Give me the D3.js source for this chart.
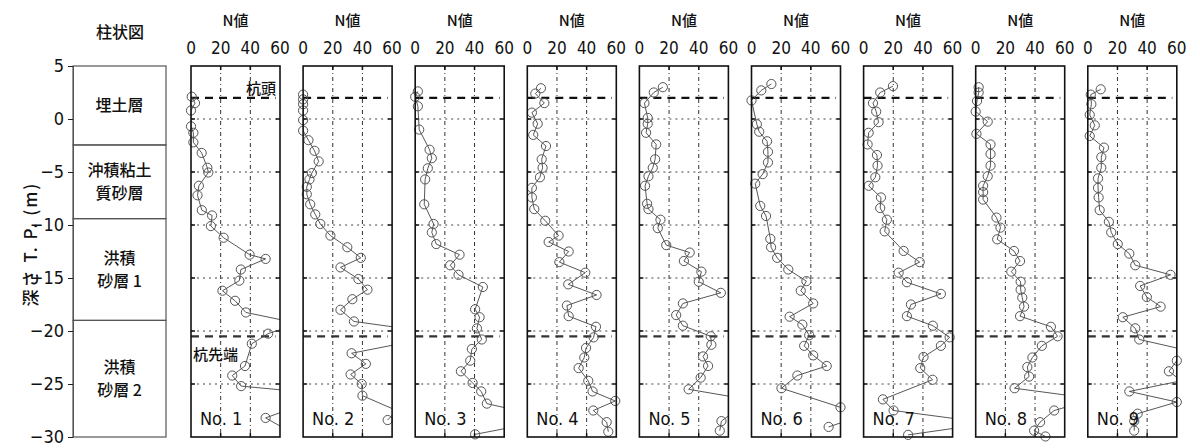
<!DOCTYPE html>
<html>
<head>
<meta charset="utf-8">
<script src="https://cdn.jsdelivr.net/npm/d3@7"></script>
<style>
  body { margin: 0; background: #fff; }
  text { fill: #111; }
</style>
</head>
<body>
<div id="chart"></div>
<script>
// soil column
const strataNames = [["埋土層"], ["沖積粘土", "質砂層"], ["洪積", "砂層 1"], ["洪積", "砂層 2"]];
const strataBounds = [5, -2.45, -9.4, -19, -30];
const depthTicks = [5, 0, -5, -10, -15, -20, -25, -30];
const gridDepths = [0, -5, -10, -15, -20, -25];
const nTicks = [0, 20, 40, 60];
const nGrid = [20, 40];
const pileHead = 2.0;
const pileTip = -20.5;
const boreNames = ["No. 1", "No. 2", "No. 3", "No. 4", "No. 5", "No. 6", "No. 7", "No. 8", "No. 9"];

// [depth T.P. m, N value] for each boring (values > 60 run off the panel)
const bore1 = [[2.1,0.5],[1.5,2.7],[0.8,0],[-0.7,0],[-1.3,1.6],[-2.2,1.6],[-3.2,7.2],[-4.6,11],[-5.05,11.7],[-6.3,5.3],[-7.2,4.4],[-8.6,7.3],[-9.1,14.2],[-10.1,13.4],[-11.2,22],[-12.8,39.5],[-13.2,50.3],[-14.2,33.6],[-15.25,32.6],[-16.2,21.2],[-17.15,29.7],[-18.25,37],[-19.3,73],[-20.25,52],[-21.2,41],[-23.3,36.4],[-24.2,27.8],[-25.2,33.8],[-26.2,110],[-27.2,70],[-28.2,50.3],[-29.2,63]];
const bore2 = [[2.3,0],[1.85,0],[1.4,0],[0.8,0],[-0.1,0],[-1.1,0],[-2.0,3.6],[-3.0,7.7],[-4.0,10.5],[-5.1,5.9],[-5.7,4.3],[-6.4,2.5],[-7.1,2.5],[-8.05,4.8],[-9.0,8.2],[-9.9,11.6],[-11.0,18.4],[-12.1,29.8],[-13.1,38.9],[-14.0,25.2],[-15.1,37.3],[-16.1,43.4],[-17.0,33.2],[-18.0,25.2],[-19.1,34.3],[-20.1,86],[-21.1,69],[-22.1,32.7],[-23.1,42.3],[-24.1,32],[-25.0,39.5],[-26.1,40],[-27.5,63],[-28.4,57]];
const bore3 = [[2.6,1.8],[2.1,0],[1.2,1.8],[-1.0,2.7],[-2.9,9.7],[-3.7,11.2],[-4.65,8.5],[-5.7,6.7],[-8.05,6.1],[-9.9,12.4],[-10.7,11.2],[-11.8,14.2],[-12.8,29.9],[-13.8,23.6],[-14.7,29.2],[-15.85,45.6],[-17.95,40.4],[-18.7,43.4],[-19.75,41.6],[-20.8,44.9],[-21.7,38.2],[-22.8,37.1],[-23.8,30.8],[-24.9,38.7],[-25.7,44.5],[-26.85,48.3],[-28.3,94],[-29.75,40.4]];
const bore4 = [[2.9,9.2],[2.4,5.4],[1.5,11.5],[0.6,3.1],[-0.45,7.0],[-1.5,4.0],[-2.55,12.6],[-3.8,9.7],[-4.6,10.3],[-5.5,8.5],[-6.5,3.1],[-7.4,3.1],[-8.5,4.7],[-9.6,12.1],[-11.0,21.1],[-11.6,14.4],[-12.5,27.9],[-13.5,21.6],[-14.5,39.1],[-15.6,27.6],[-16.6,46.7],[-17.6,26.7],[-18.6,27.9],[-19.6,46.3],[-20.6,44.7],[-21.6,39.6],[-22.5,38.4],[-23.5,34.6],[-24.7,41.1],[-25.7,44],[-26.6,59.3],[-27.5,44.5],[-28.6,53.5],[-29.5,54.6]];
const bore5 = [[3.0,15.8],[2.5,9.7],[1.5,3.4],[0.1,5.6],[-0.45,5.6],[-1.3,4.5],[-2.4,11.3],[-3.8,10.6],[-4.6,9.0],[-5.4,6.1],[-6.3,3.8],[-8.0,5.2],[-8.5,6.1],[-9.5,14.2],[-10.3,12.4],[-11.9,18.1],[-12.6,33.9],[-13.4,30.0],[-14.4,41.8],[-15.35,40],[-16.4,54.9],[-17.4,29.3],[-18.5,24.8],[-19.5,29.3],[-20.5,48.1],[-21.3,48.5],[-22.4,42.9],[-23.3,46.3],[-24.4,41.3],[-25.5,33.2],[-26.5,75],[-27.5,65],[-28.5,55.3],[-29.4,54.2]];
const bore6 = [[3.3,13.4],[2.7,6.6],[1.75,0],[-0.5,3.6],[-1.2,5.2],[-2.1,10.5],[-3.1,11.1],[-4.1,11.1],[-5.2,7.5],[-6.1,2.5],[-8.2,5.9],[-9.15,9.8],[-11.3,12.7],[-12.1,13.2],[-13.1,17.3],[-14.2,24.8],[-15.3,37],[-16.2,33.2],[-17.4,41.6],[-18.65,25.7],[-19.4,34.3],[-20.4,38.9],[-21.4,35.5],[-22.3,41.6],[-23.3,50.7],[-24.2,30.9],[-25.4,20.2],[-27.2,60],[-28.2,70],[-29.05,52]];
const bore7 = [[3.1,19.8],[2.5,11.2],[1.5,6.3],[0.7,8.5],[-0.3,10.1],[-1.3,3.4],[-2.4,2.7],[-3.4,9],[-4.4,9.4],[-5.5,7.9],[-6.3,3.4],[-7.4,11.7],[-8.4,11.2],[-9.5,15.7],[-10.6,14.2],[-12.45,27],[-13.5,37.8],[-14.5,23.6],[-15.4,29.2],[-16.5,52.1],[-17.5,31.9],[-18.6,29.2],[-19.5,46.7],[-20.6,58],[-21.4,52.1],[-22.45,40.4],[-23.5,38.2],[-24.6,46.5],[-26.45,13],[-27.5,20.2],[-28.7,85],[-29.8,30]];
const bore8 = [[3.0,2],[2.5,2],[1.7,0.9],[0.7,0],[-0.25,8.1],[-1.4,0.5],[-2.4,10],[-3.3,10],[-4.4,10],[-5.4,8.1],[-6.3,5],[-6.9,5],[-7.6,5],[-9.3,14],[-10.25,16.7],[-11.35,14.5],[-12.45,25.8],[-13.4,29.9],[-14.4,24],[-15.35,30.3],[-16.1,30.3],[-16.85,31.4],[-17.7,32.6],[-18.6,29.9],[-19.6,50.7],[-20.5,55.2],[-21.4,44.6],[-22.5,38.2],[-23.4,34.8],[-24.3,36],[-25.4,26.2],[-26.4,80],[-27.5,52.9],[-28.6,43.4],[-29.4,39.4],[-29.95,47]];
const bore9 = [[2.8,8.7],[2.3,2],[1.4,2.4],[0.4,1.3],[-0.6,4.7],[-1.6,1.3],[-2.7,10.9],[-3.6,9.1],[-4.6,9.1],[-5.6,6.9],[-6.5,6.9],[-7.4,7.3],[-8.6,8],[-9.7,14.2],[-10.7,15.8],[-11.8,20.2],[-12.7,28],[-13.8,32],[-14.7,55.8],[-15.75,35.3],[-16.8,39.8],[-17.7,49.1],[-18.7,23.6],[-19.75,32],[-20.8,34.7],[-21.8,66],[-22.8,60],[-23.8,54.7],[-24.7,63],[-25.7,28],[-26.7,60],[-27.8,33.6],[-28.5,31.3],[-29.4,31.3]];
const bores = [bore1, bore2, bore3, bore4, bore5, bore6, bore7, bore8, bore9];

const W = 1200, H = 448;
const fontNum = "'Liberation Sans Narrow','DejaVu Sans Condensed','Noto Sans CJK JP',sans-serif";
const fontJp = "'Noto Sans CJK JP','Liberation Sans Narrow',sans-serif";

const svg = d3.select("#chart").append("svg")
    .attr("width", W).attr("height", H)
    .style("display", "block");

const y = d3.scaleLinear().domain([5, -30]).range([66, 437]);

// ---- soil column ----
const colX0 = 73, colX1 = 166;
const col = svg.append("g");
col.selectAll(".stratum")
  .data(strataNames)
  .join("rect")
    .attr("x", colX0)
    .attr("y", (d, i) => y(strataBounds[i]))
    .attr("width", colX1 - colX0)
    .attr("height", (d, i) => y(strataBounds[i + 1]) - y(strataBounds[i]))
    .attr("fill", "none")
    .attr("stroke", "#555")
    .attr("stroke-width", 1.2);

strataNames.forEach((lines, i) => {
  const mid = (y(strataBounds[i]) + y(strataBounds[i + 1])) / 2;
  lines.forEach((t, j) => {
    col.append("text")
      .attr("x", (colX0 + colX1) / 2)
      .attr("y", mid + (j - (lines.length - 1) / 2) * 23)
      .attr("dy", "0.36em")
      .attr("text-anchor", "middle")
      .style("font-family", fontJp)
      .style("font-weight", 500)
      .style("font-size", "16px")
      .text(t);
  });
});

col.append("text")
  .attr("x", 120).attr("y", 38)
  .attr("text-anchor", "middle")
  .style("font-family", fontJp)
  .style("font-weight", 500)
  .style("font-size", "16px")
  .text("柱状図");

const yAxis = svg.append("g")
  .attr("transform", `translate(${colX0},0)`)
  .call(d3.axisLeft(y).tickValues(depthTicks).tickSize(5).tickPadding(4).tickFormat(d => d3.format("d")(d).replace("-", "−")));
yAxis.select(".domain").attr("stroke", "#555");
yAxis.selectAll(".tick line").attr("stroke", "#222");
yAxis.selectAll(".tick text")
  .style("font-family", fontNum)
  .style("font-size", "18px")
  .attr("fill", "#111");

svg.append("text")
  .attr("transform", `translate(31,244) rotate(-90)`)
  .attr("text-anchor", "middle")
  .attr("dy", "0.35em")
  .style("font-family", fontJp)
  .style("font-weight", 500)
  .style("font-size", "17px")
  .style("letter-spacing", "2px")
  .text("深さ  T. P. (m)");

// ---- N-value panels ----
const panelW = 89;
const panelLeft = i => 191 + i * 112.1;

bores.forEach((data, i) => {
  const x0 = panelLeft(i);
  const x = d3.scaleLinear().domain([0, 60]).range([x0, x0 + panelW]);
  const g = svg.append("g");

  g.append("text")
    .attr("x", x(30)).attr("y", 26)
    .attr("text-anchor", "middle")
    .style("font-family", fontJp)
    .style("font-weight", 500)
    .style("font-size", "15px")
    .text("N値");

  g.selectAll(".nt")
    .data(nTicks)
    .join("text")
      .attr("x", d => x(d)).attr("y", 54)
      .attr("text-anchor", "middle")
      .style("font-family", fontNum)
      .style("font-size", "17px")
      .text(d => d);

  // grid
  g.selectAll(".vg")
    .data(nGrid)
    .join("line")
      .attr("x1", d => x(d)).attr("x2", d => x(d))
      .attr("y1", y(5)).attr("y2", y(-30))
      .attr("stroke", "#333").attr("stroke-width", 1)
      .attr("stroke-dasharray", "4,3,1,3");
  g.selectAll(".hg")
    .data(gridDepths)
    .join("line")
      .attr("x1", x(0)).attr("x2", x(60))
      .attr("y1", d => y(d)).attr("y2", d => y(d))
      .attr("stroke", "#444").attr("stroke-width", 1)
      .attr("stroke-dasharray", "2,4");

  // tick marks on the frame
  g.selectAll(".lt")
    .data(gridDepths)
    .join("line")
      .attr("x1", x(0)).attr("x2", x(0) + 4)
      .attr("y1", d => y(d)).attr("y2", d => y(d))
      .attr("stroke", "#111").attr("stroke-width", 1.5);
  g.selectAll(".rt")
    .data(gridDepths)
    .join("line")
      .attr("x1", x(60) - 4).attr("x2", x(60))
      .attr("y1", d => y(d)).attr("y2", d => y(d))
      .attr("stroke", "#111").attr("stroke-width", 1.5);
  g.selectAll(".tt")
    .data(nGrid)
    .join("line")
      .attr("x1", d => x(d)).attr("x2", d => x(d))
      .attr("y1", y(5)).attr("y2", y(5) + 4)
      .attr("stroke", "#111").attr("stroke-width", 1.5);
  g.selectAll(".bt")
    .data(nGrid)
    .join("line")
      .attr("x1", d => x(d)).attr("x2", d => x(d))
      .attr("y1", y(-30) - 4).attr("y2", y(-30))
      .attr("stroke", "#111").attr("stroke-width", 1.5);

  // pile head / pile tip
  [pileHead, pileTip].forEach(dep => {
    g.append("line")
      .attr("x1", x(0)).attr("x2", x(57))
      .attr("y1", y(dep)).attr("y2", y(dep))
      .attr("stroke", dep === pileHead ? "#111" : "#333")
      .attr("stroke-width", 2.2)
      .attr("stroke-dasharray", "8,6");
  });

  // profile line, clipped to the panel
  const clipId = "clip" + i;
  svg.append("clipPath").attr("id", clipId)
    .append("rect")
      .attr("x", x(0)).attr("y", y(5))
      .attr("width", panelW).attr("height", y(-30) - y(5));

  const line = d3.line().x(d => x(d[1])).y(d => y(d[0]));
  g.append("path")
    .datum(data)
    .attr("clip-path", `url(#${clipId})`)
    .attr("d", line)
    .attr("fill", "none")
    .attr("stroke", "#444")
    .attr("stroke-width", 0.9);

  g.selectAll(".pt")
    .data(data.filter(d => d[1] <= 61))
    .join("circle")
      .attr("cx", d => x(d[1]))
      .attr("cy", d => y(d[0]))
      .attr("r", 4.6)
      .attr("fill", "none")
      .attr("stroke", "#555")
      .attr("stroke-width", 1);

  // frame
  g.append("rect")
    .attr("x", x(0)).attr("y", y(5))
    .attr("width", panelW).attr("height", y(-30) - y(5))
    .attr("fill", "none")
    .attr("stroke", "#111")
    .attr("stroke-width", 1.6);

  g.append("text")
    .attr("x", x(0) + 9).attr("y", 425)
    .style("font-family", fontNum)
    .style("font-size", "18px")
    .text(boreNames[i]);

  if (i === 0) {
    g.append("text")
      .attr("x", x(60) - 4).attr("y", y(pileHead) - 4)
      .attr("text-anchor", "end")
      .style("font-family", fontJp)
      .style("font-weight", 500)
      .style("font-size", "15px")
      .text("杭頭");
    g.append("text")
      .attr("x", x(0) + 2).attr("y", y(pileTip) + 24)
      .style("font-family", fontJp)
      .style("font-weight", 500)
      .style("font-size", "15px")
      .text("杭先端");
  }
});
</script>
</body>
</html>
